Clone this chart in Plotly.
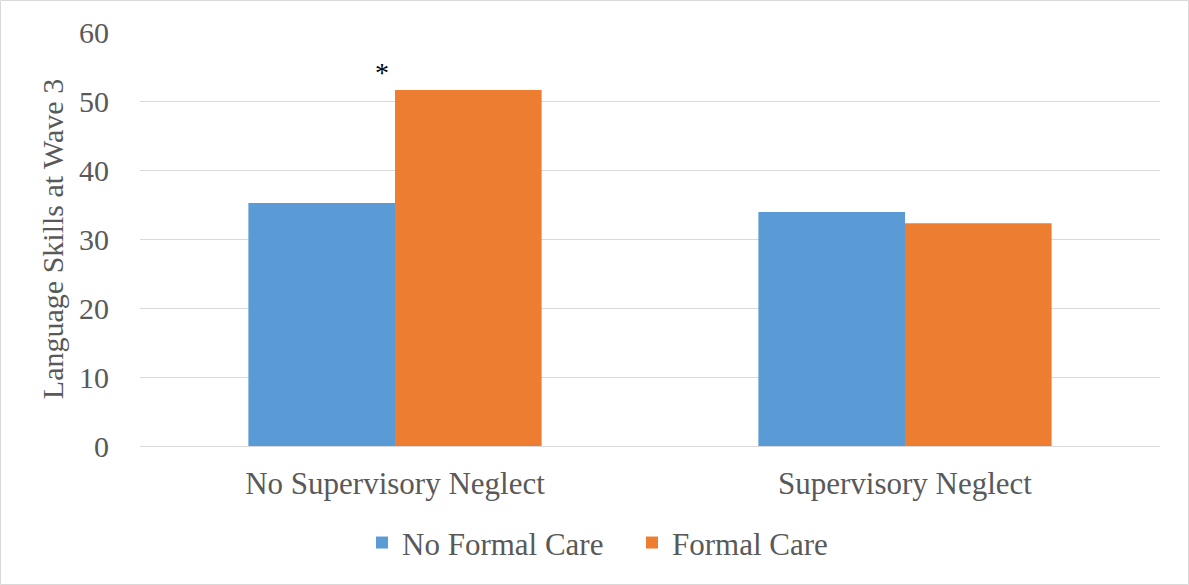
import plotly.graph_objects as go

categories = ["No Supervisory Neglect", "Supervisory Neglect"]
no_formal_care = [35.2, 33.9]
formal_care = [51.6, 32.3]
y_ticks = [0, 10, 20, 30, 40, 50, 60]

W, H = 1189, 585
L, R, T, B = 140, 29, 32, 139
pw, ph = W - L - R, H - T - B

font_family = "Liberation Serif"
grey = "#595959"

fig = go.Figure()
fig.add_trace(go.Bar(name="No Formal Care", x=categories, y=no_formal_care,
                     marker=dict(color="#5b9bd5", line=dict(width=0))))
fig.add_trace(go.Bar(name="Formal Care", x=categories, y=formal_care,
                     marker=dict(color="#ed7d31", line=dict(width=0))))

# significance marker above the first group
fig.add_annotation(x=-0.025, y=54.1, xref="x", yref="y", text="*", showarrow=False,
                   font=dict(family=font_family, size=28, color="#000000"))

# outer frame around the whole figure
fig.add_shape(type="rect", xref="paper", yref="paper",
              x0=(0.5 - L) / pw, x1=(W - 0.5 - L) / pw,
              y0=-(H - 0.5 - (H - B)) / ph, y1=(H - B - 0.5) / ph,
              line=dict(color="#d9d9d9", width=1), fillcolor="rgba(0,0,0,0)", layer="below")

fig.update_layout(
    width=W, height=H,
    margin=dict(l=L, r=R, t=T, b=B, pad=0),
    paper_bgcolor="white", plot_bgcolor="white",
    barmode="group", bargap=0.425, bargroupgap=0,
    font=dict(family=font_family, size=31, color=grey),
    showlegend=True,
    legend=dict(orientation="h", x=(632 - L) / pw, xanchor="center", y=-0.234, yanchor="middle",
                font=dict(family=font_family, size=31, color=grey),
                itemwidth=30, tracegroupgap=0, itemsizing="constant",
                entrywidth=225, entrywidthmode="pixels"),
    xaxis=dict(showgrid=False, showline=True, linecolor="#d9d9d9", linewidth=1,
               ticks="", tickfont=dict(family=font_family, size=31, color=grey),
               ticklabelstandoff=10),
    yaxis=dict(range=[0, 60], tickvals=y_ticks, showgrid=True, gridcolor="#d9d9d9",
               gridwidth=1, zeroline=False, showline=False, ticks="",
               tickfont=dict(family=font_family, size=30, color=grey),
               ticklabelstandoff=30,
               title=dict(text="Language Skills at Wave 3", standoff=6,
                          font=dict(family=font_family, size=30, color=grey))),
)

fig.write_html("out.html")
